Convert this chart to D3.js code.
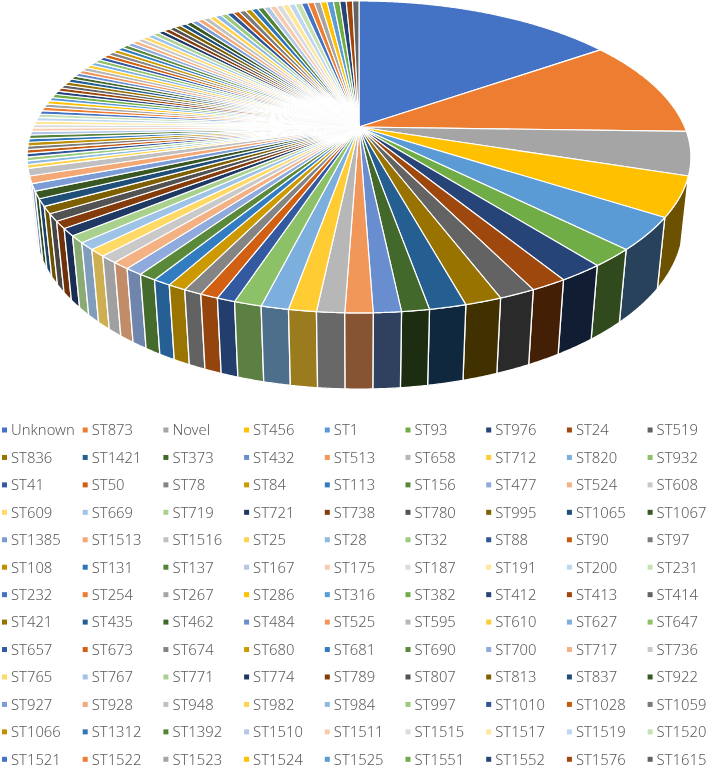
<!DOCTYPE html>
<html><head><meta charset="utf-8">
<script src="https://cdn.jsdelivr.net/npm/d3@7"></script>
<style>html,body{margin:0;padding:0;background:#fff;overflow:hidden}svg{display:block}.soft{filter:blur(.4px)}</style>
</head><body><svg id="c" width="708" height="766"></svg>
<script>
const categories = ["Unknown","ST873","Novel","ST456","ST1","ST93","ST976","ST24","ST519",
"ST836","ST1421","ST373","ST432","ST513","ST658","ST712","ST820","ST932",
"ST41","ST50","ST78","ST84","ST113","ST156","ST477","ST524","ST608",
"ST609","ST669","ST719","ST721","ST738","ST780","ST995","ST1065","ST1067",
"ST1385","ST1513","ST1516","ST25","ST28","ST32","ST88","ST90","ST97",
"ST108","ST131","ST137","ST167","ST175","ST187","ST191","ST200","ST231",
"ST232","ST254","ST267","ST286","ST316","ST382","ST412","ST413","ST414",
"ST421","ST435","ST462","ST484","ST525","ST595","ST610","ST627","ST647",
"ST657","ST673","ST674","ST680","ST681","ST690","ST700","ST717","ST736",
"ST765","ST767","ST771","ST774","ST789","ST807","ST813","ST837","ST922",
"ST927","ST928","ST948","ST982","ST984","ST997","ST1010","ST1028","ST1059",
"ST1066","ST1312","ST1392","ST1510","ST1511","ST1515","ST1517","ST1519","ST1520",
"ST1521","ST1522","ST1523","ST1524","ST1525","ST1551","ST1552","ST1576","ST1615"];
const values = [41,27,12,11,9,5,5,4,4,
4,4,3,3,3,3,3,3,3,
2,2,2,2,2,2,2,2,2,
2,2,2,2,2,2,2,2,2,
2,2,2,1,1,1,1,1,1,
1,1,1,1,1,1,1,1,1,
1,1,1,1,1,1,1,1,1,
1,1,1,1,1,1,1,1,1,
1,1,1,1,1,1,1,1,1,
1,1,1,1,1,1,1,1,1,
1,1,1,1,1,1,1,1,1,
1,1,1,1,1,1,1,1,1,
1,1,1,1,1,1,1,1,1];
const palette = [
"#4472C4","#ED7D31","#A5A5A5","#FFC000","#5B9BD5","#70AD47",
"#264478","#9E480E","#636363","#997300","#255E91","#43682B",
"#698ED0","#F1975A","#B7B7B7","#FFCD33","#7CAFDD","#8CC168",
"#335AA1","#D26012","#848484","#CC9A00","#327DC2","#5A8A39",
"#8FAADC","#F4B183","#C9C9C9","#FFD966","#9DC3E6","#A9D18E",
"#203864","#843C0C","#525252","#7F6000","#1F4E79","#385723",
"#7C9CD6","#F3A875","#C0C0C0","#FFD34D","#8DBAE2","#9BCA7B",
"#2F5597","#C55A11","#7B7B7B","#BF9000","#2E75B6","#548235",
"#B4C7E7","#F8CBAD","#DBDBDB","#FFE699","#BDD7EE","#C5E0B4"];
const shadeAngles = [100,175,179,184,190,200,205,215,240,270];
const shadeLevels = [.42,.43,.55,.57,.62,.68,.74,.78,.85,.95];

const svg = d3.select("#c");
const color = i => palette[i % palette.length];
const deg = d3.scaleLinear().domain([0,2*Math.PI]).range([0,360]);
const shade = d3.scaleLinear().domain(shadeAngles).range(shadeLevels).clamp(true);

// perspective projection of the unit disc (u right, v toward viewer)
const cx=359, cy=127, A=325.7, B=150.2, K=.192, DW=.0224, VPY=3138;
function topPt(t){const u=Math.sin(t),v=-Math.cos(t),w=1-K*v;return [cx+A*u/w, cy+B*v/w, w];}
function botPt(t){const p=topPt(t),s=DW/(p[2]+DW);return [p[0]+s*(cx-p[0]), p[1]+s*(VPY-p[1])];}

const arcs = d3.pie().sort(null).startAngle(0).endAngle(2*Math.PI)(values);
const STEP = Math.PI/720;
const samples=(a,b)=>{const n=Math.max(1,Math.ceil((b-a)/STEP));return d3.range(n+1).map(i=>a+(b-a)*i/n);};
const line=d3.line();
const pieG=svg.append("g").attr("class","soft");

// side wall: visible front half, drawn back-to-front
const front = arcs.filter(d=>d.endAngle>Math.PI*.5 && d.startAngle<Math.PI*1.5)
  .sort((a,b)=>Math.abs((b.startAngle+b.endAngle)/2-Math.PI)-Math.abs((a.startAngle+a.endAngle)/2-Math.PI));
pieG.append("g").selectAll("path").data(front).join("path")
  .attr("d",d=>{const s=samples(d.startAngle,d.endAngle);return line([...s.map(t=>topPt(t).slice(0,2)),...s.slice().reverse().map(botPt)])+"Z";})
  .attr("fill",d=>{const c=d3.rgb(color(d.index)),k=shade(deg((d.startAngle+d.endAngle)/2));return d3.rgb(c.r*k,c.g*k,c.b*k).formatHex();})
  .attr("stroke","#fff").attr("stroke-width",1.3).attr("stroke-linejoin","round");

// top face
pieG.append("g").selectAll("path").data(arcs).join("path")
  .attr("d",d=>line([[cx,cy],...samples(d.startAngle,d.endAngle).map(t=>topPt(t).slice(0,2))])+"Z")
  .attr("fill",d=>color(d.index))
  .attr("stroke","#fff").attr("stroke-width",1.15).attr("stroke-linejoin","round");

// legend
const col=d3.scaleLinear().domain([0,8]).range([11,656.6]);
const row=d3.scaleLinear().domain([0,12]).range([430,759.3]);
const lg=svg.append("g").attr("class","soft").selectAll("g").data(categories).join("g")
  .attr("transform",(d,i)=>`translate(${col(i%9)},${row(Math.floor(i/9))})`);
lg.append("rect").attr("x",-9).attr("y",-2.5).attr("width",5).attr("height",5).attr("fill",(d,i)=>color(i));
lg.append("text").text(d=>d).attr("x",0).attr("y",0).attr("dy","0.36em")
  .attr("font-family","'Noto Sans',sans-serif").attr("font-weight",300)
  .attr("font-size",14.8).attr("fill","#5c5c5c");
</script></body></html>
